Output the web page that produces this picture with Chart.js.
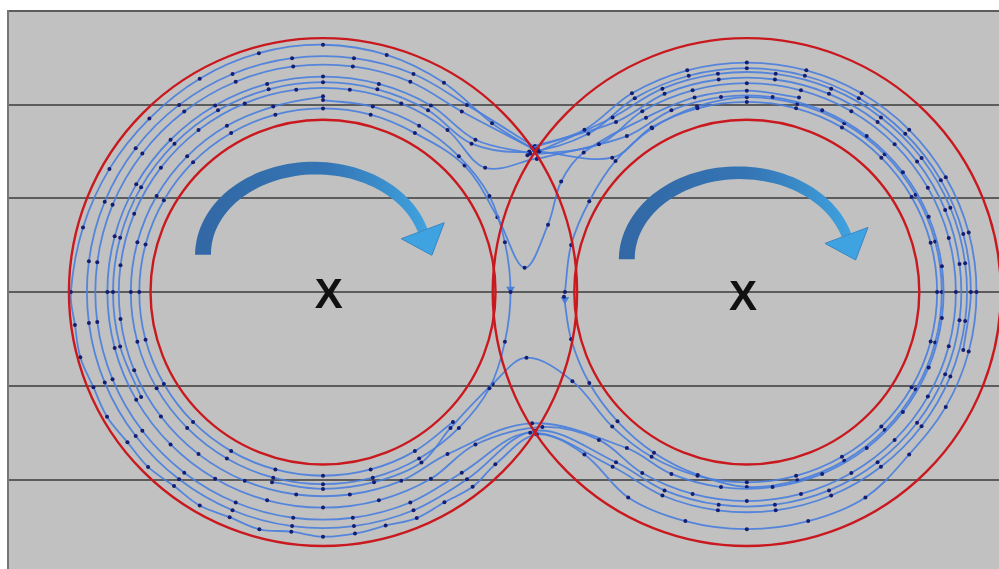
<!DOCTYPE html>
<html>
<head>
<meta charset="utf-8">
<script src="https://cdn.jsdelivr.net/npm/chart.js@4.4.1/dist/chart.umd.min.js"></script>
<style>
  html, body { margin: 0; padding: 0; background: #fff; }
  #wrap { width: 999px; height: 569px; }
</style>
</head>
<body>
<div id="wrap"><canvas id="orbitChart" width="999" height="569"></canvas></div>
<script>
'use strict';

// Reference circles: two centres, outer and inner radius
const circleX = [-22.6, 22.6];
const circleY = [0, 0];
const circleR = [27.1, 18.4];

// Centre marks
const markLabels = ['X', 'X'];
const markX = [-22.0, 22.2];
const markY = [-0.1, -0.3];

// Horizontal grid values
const gridValues = [30, 20, 10, 0, -10, -20];

// Recorded laps [x, y]
const lap1 = [[-0.3,15.4],[5.28,17.32],[10.35,21.22],[16.25,23.67],[22.6,24.5],[28.95,23.67],[34.85,21.22],[39.92,17.32],[43.82,12.25],[46.27,6.35],[47.1,0],[46.27,-6.35],[43.82,-12.25],[39.92,-17.32],[35.25,-21.91],[29.15,-24.44],[22.6,-25.3],[16.05,-24.44],[9.95,-21.91],[5.28,-17.32],[0.2,-15.2],
  [-4.22,-18.38],[-6.64,-20.78],[-9.65,-22.43],[-12.6,-24.12],[-15.92,-24.92],[-19.19,-25.77],[-22.6,-26.1],[-25.98,-25.57],[-29.39,-25.31],[-32.56,-24.02],[-35.75,-22.78],[-38.49,-20.7],[-41.26,-18.66],[-43.46,-16.02],[-45.64,-13.3],[-47.09,-10.15],[-48.49,-6.94],[-49.06,-3.5],[-49.5,0],[-48.2,6.9],[-45.38,13.15],[-41.12,18.52],[-35.75,22.78],[-29.44,25.5],[-22.6,26.4],[-15.81,25.31],[-9.7,22.34],[-4.57,18.03],[-0.1,15.2]];
const lap2 = [[0.4,15.0],[8.29,18.64],[13.6,21.71],[19.52,23.29],[25.68,23.29],[31.6,21.71],[36.91,18.64],[41.24,14.31],[44.31,9.0],[45.89,3.08],[45.89,-3.08],[44.31,-9.0],[41.24,-14.31],[36.91,-18.64],[31.6,-21.71],[25.68,-23.29],[19.52,-23.29],[13.6,-21.71],[8.29,-18.64],[-0.5,-15.0],
  [-7.8,-19.27],[-13.29,-22.45],[-19.42,-24.08],[-25.78,-24.08],[-31.91,-22.45],[-37.4,-19.27],[-41.87,-14.8],[-45.05,-9.31],[-46.68,-3.18],[-46.68,3.18],[-45.05,9.31],[-41.87,14.8],[-37.4,19.27],[-31.91,22.45],[-25.78,24.08],[-19.42,24.08],[-13.29,22.45],[-7.8,19.27],[0.2,15.1]];
const lap3 = [[-0.8,14.6],[6.83,15.77],[11.45,19.31],[16.82,21.54],[22.6,22.3],[28.38,21.54],[33.75,19.31],[38.37,15.77],[41.91,11.15],[44.14,5.78],[44.9,0],[44.14,-5.78],[41.91,-11.15],[38.37,-15.77],[33.75,-19.31],[28.38,-21.54],[22.6,-22.3],[16.82,-21.54],[11.45,-19.31],[6.83,-15.77],[0.8,-14.4],
  [-6.34,-16.26],[-11.1,-19.92],[-16.64,-22.22],[-22.6,-23.0],[-28.56,-22.22],[-34.1,-19.92],[-38.86,-16.26],[-42.52,-11.5],[-44.82,-5.96],[-45.6,0],[-44.82,5.96],[-42.52,11.5],[-38.86,16.26],[-34.1,19.92],[-28.56,22.22],[-22.6,23.0],[-16.64,22.22],[-11.1,19.92],[-6.34,16.26],[-0.5,14.8]];
const lap4 = [[0.2,14.2],[9.81,16.65],[14.56,19.4],[19.85,20.81],[25.35,20.81],[30.64,19.4],[35.39,16.65],[39.25,12.79],[42.0,8.04],[43.41,2.75],[43.41,-2.75],[42.0,-8.04],[39.25,-12.79],[35.39,-16.65],[30.64,-19.4],[25.35,-20.81],[19.85,-20.81],[14.56,-19.4],[9.81,-16.65],[-0.3,-14.0],
  [-9.32,-17.29],[-14.25,-20.14],[-19.74,-21.6],[-25.46,-21.6],[-30.95,-20.14],[-35.88,-17.29],[-39.89,-13.28],[-42.74,-8.35],[-44.2,-2.86],[-44.2,2.86],[-42.74,8.35],[-39.89,13.28],[-35.88,17.29],[-30.95,20.14],[-25.46,21.6],[-19.74,21.6],[-14.25,20.14],[-9.32,17.29],[-5.31,13.28],[0.3,14.3]];
const lap5 = [[-22.6,20.5],[-17.29,19.8],[-12.35,17.75],[-8.11,14.49],[-4.85,10.25],[-3.2,5.31],[-2.6,0],[-3.2,-5.31],[-4.85,-10.25],[-8.11,-14.49],[-12.35,-17.75],[-17.29,-19.8],[-22.6,-20.5],[-27.91,-19.8],[-32.85,-17.75],[-37.09,-14.49],[-40.35,-10.25],[-42.4,-5.31],[-43.1,0],[-42.4,5.31],[-40.35,10.25],[-37.09,14.49],[-32.85,17.75],[-27.91,19.8],[-22.6,20.9]];
const lap6 = [[-8.74,-13.86],[-12.8,-16.97],[-17.52,-18.93],[-22.6,-19.6],[-27.68,-18.93],[-32.4,-16.97],[-36.46,-13.86],[-39.57,-9.8],[-41.53,-5.08],[-42.2,0],[-41.53,5.08],[-39.57,9.8],[-36.46,13.86],[-32.4,16.97],[-27.68,18.93],[-22.6,19.6],[-17.52,18.93],[-12.8,16.97],
  [-7.5,13.5],[-4.0,8.0],[-1.1,2.6],[1.4,7.2],[2.8,11.8],[5.2,14.9],[11.85,18.62],[17.03,20.77],[22.6,21.5],[28.17,20.77]];
const lap7 = [[3.2,0],[3.86,5.02],[5.8,9.7],[8.6,14.0],[12.5,17.49],[17.29,19.8],[22.6,20.8],[27.99,20.09],[33.0,18.01],[37.31,14.71],[40.61,10.4],[42.69,5.39],[43.4,0],[42.69,-5.39],[40.61,-10.4],[37.31,-14.71],[33.0,-18.01],[27.99,-20.09],[22.6,-20.8],[17.37,-19.51],[12.7,-17.15],[8.81,-13.79],[5.8,-9.7],[3.86,-5.02],[3.1,-0.5]];
const lap8 = [[0.5,15.0],[8.25,14.35],[12.45,17.58],[17.34,19.61],[22.6,20.3],[27.86,19.61],[32.75,17.58],[36.95,14.35],[40.18,10.15],[42.21,5.26],[42.9,0],[42.21,-5.26],[40.18,-10.15],[36.95,-14.35],[32.75,-17.58],[27.86,-19.61],[22.6,-20.3],[17.34,-19.61],[12.45,-17.58],[8.25,-14.35],
  [4.0,-9.5],[-0.9,-7.0],[-4.5,-9.8],[-9.0,-14.5],[-12.1,-18.19],[-17.16,-20.29],[-22.6,-21.0],[-28.04,-20.29]];
const lap9 = [[0.0,15.6],[8.65,18.16],[13.83,21.16],[19.6,22.69],[25.6,22.69],[31.37,21.16],[36.55,18.16],[40.76,13.95],[43.76,8.77],[45.29,3.0],[45.29,-3.0],[43.76,-8.77],[40.76,-13.95],[36.55,-18.16],[31.37,-21.16],[25.6,-22.69],[19.6,-22.69],[13.83,-21.16],[8.65,-18.16],[0.0,-14.8],
  [-7.25,-19.98],[-12.95,-23.28],[-19.3,-24.97],[-25.9,-24.97],[-32.25,-23.28],[-37.95,-19.98],[-42.58,-15.35],[-45.88,-9.65],[-47.57,-3.3],[-47.57,3.3],[-45.88,9.65],[-42.58,15.35],[-37.95,19.98],[-32.25,23.28],[-25.9,24.97],[-19.3,24.97],[-12.95,23.28],[-7.25,19.98],[0.3,15.3]];
const lap10 = [[-42.0,-11.2],[-44.24,-5.8],[-45.0,0],[-44.24,5.8],[-42.0,11.2],[-38.44,15.84],[-33.8,19.4],[-28.4,21.64],[-22.6,22.4],[-16.8,21.64],[-11.4,19.4],[-6.76,15.84],[-0.6,15.0],
  [5.7,16.9],[10.65,20.7],[16.41,23.09],[22.6,23.9],[28.79,23.09],[34.55,20.7],[39.5,16.9],[43.3,11.95],[45.69,6.19],[46.5,0],[45.69,-6.19]];

// Direction marks on the crossing lines
const dirMarks = [[-2.6,0.3],[3.2,-0.8]];

const laps = [lap1, lap2, lap3, lap4, lap5, lap6, lap7, lap8, lap9, lap10];

const toPoints = arr => arr.map(([x, y]) => ({ x: x, y: y }));

const datasets = laps.map(lap => ({
  data: toPoints(lap),
  showLine: true,
  tension: 0.35,
  borderColor: 'rgba(72,126,222,0.9)',
  borderWidth: 1.8,
  pointRadius: 2,
  pointBackgroundColor: '#141d74',
  pointBorderWidth: 0
}));

datasets.push({
  data: toPoints(dirMarks),
  showLine: false,
  pointStyle: 'triangle',
  rotation: 180,
  pointRadius: 5,
  pointBackgroundColor: '#4a80d8',
  pointBorderWidth: 0
});

// Curved arrow shape, in data units relative to each circle centre
const arrowShape = { dx: -0.85, rx: 11.95, ry: 9.23, w0: 1.7, w1: 1.07, headHalf: 2.45, headLen: 2.8, endCut: 0.28 };
const arrowLift = [4.0, 3.5];

const backdrop = {
  id: 'backdrop',
  beforeDraw(chart) {
    const { ctx, chartArea: a } = chart;
    ctx.save();
    ctx.fillStyle = '#ffffff';
    ctx.fillRect(0, 0, chart.width, chart.height);
    ctx.fillStyle = '#c1c1c1';
    ctx.fillRect(a.left, a.top, a.right - a.left, a.bottom - a.top);
    ctx.restore();
  }
};

const overlay = {
  id: 'overlay',
  afterDatasetsDraw(chart) {
    const { ctx, chartArea: a, scales: { x, y } } = chart;
    const k = x.getPixelForValue(1) - x.getPixelForValue(0);
    ctx.save();
    ctx.beginPath();
    ctx.rect(a.left, a.top, a.right - a.left, a.bottom - a.top);
    ctx.clip();

    // red circles
    ctx.strokeStyle = '#c9191f';
    ctx.lineWidth = 2.4;
    circleX.forEach((cx, i) => {
      const px = x.getPixelForValue(cx);
      const py = y.getPixelForValue(circleY[i]);
      circleR.forEach(r => {
        const rx = x.getPixelForValue(cx + r) - px;
        const ry = py - y.getPixelForValue(circleY[i] + r);
        ctx.beginPath();
        ctx.ellipse(px, py, rx, ry, 0, 0, Math.PI * 2);
        ctx.stroke();
      });
    });

    // curved arrows
    circleX.forEach((cx, i) => {
      const s = arrowShape;
      const ecx = x.getPixelForValue(cx + s.dx);
      const ecy = y.getPixelForValue(circleY[i] + arrowLift[i]);
      const rx = s.rx * k, ry = s.ry * k;
      const a0 = Math.PI, a1 = Math.PI * 2 - s.endCut;
      const n = 60;
      const outer = [], inner = [];
      for (let j = 0; j <= n; j++) {
        const t = j / n;
        const ang = a0 + (a1 - a0) * t;
        const w = (s.w0 + (s.w1 - s.w0) * t) * k / 2;
        outer.push([ecx + (rx + w) * Math.cos(ang), ecy + (ry + w) * Math.sin(ang)]);
        inner.push([ecx + (rx - w) * Math.cos(ang), ecy + (ry - w) * Math.sin(ang)]);
      }
      const grad = ctx.createLinearGradient(ecx - rx, 0, ecx + rx, 0);
      grad.addColorStop(0, '#3268a5');
      grad.addColorStop(0.55, '#3575b5');
      grad.addColorStop(1, '#3fa2de');
      ctx.fillStyle = grad;
      ctx.beginPath();
      outer.forEach((p, j) => j ? ctx.lineTo(p[0], p[1]) : ctx.moveTo(p[0], p[1]));
      inner.reverse().forEach(p => ctx.lineTo(p[0], p[1]));
      ctx.closePath();
      ctx.fill();

      // head
      const ex = ecx + rx * Math.cos(a1), ey = ecy + ry * Math.sin(a1);
      let tx = -rx * Math.sin(a1), ty = ry * Math.cos(a1);
      const len = Math.hypot(tx, ty);
      tx /= len; ty /= len;
      const nx = -ty, ny = tx;
      const hw = s.headHalf * k, hl = s.headLen * k;
      ctx.fillStyle = '#3ea3e0';
      ctx.strokeStyle = '#3a86c4';
      ctx.lineWidth = 1;
      ctx.beginPath();
      ctx.moveTo(ex + nx * hw, ey + ny * hw);
      ctx.lineTo(ex - nx * hw, ey - ny * hw);
      ctx.lineTo(ex + tx * hl, ey + ty * hl);
      ctx.closePath();
      ctx.fill();
      ctx.stroke();
    });

    // centre marks
    ctx.fillStyle = '#111111';
    ctx.font = 'bold 42px "Liberation Sans", Arial, sans-serif';
    ctx.textAlign = 'center';
    ctx.textBaseline = 'alphabetic';
    markLabels.forEach((lbl, i) => {
      ctx.fillText(lbl, x.getPixelForValue(markX[i]), y.getPixelForValue(markY[i]) + 15);
    });
    ctx.restore();
  }
};

new Chart(document.getElementById('orbitChart'), {
  type: 'scatter',
  data: { datasets: datasets },
  options: {
    responsive: false,
    devicePixelRatio: 1,
    animation: false,
    events: [],
    layout: { autoPadding: false, padding: { left: 8, top: 11, right: 0, bottom: 0 } },
    plugins: { legend: { display: false }, tooltip: { enabled: false } },
    scales: {
      x: { type: 'linear', min: -56.2, max: 49.5, display: false },
      y: {
        type: 'linear',
        min: -29.55,
        max: 30,
        afterBuildTicks: scale => { scale.ticks = gridValues.map(v => ({ value: v })); },
        ticks: { display: false },
        grid: { color: '#5c5c5c', lineWidth: 2, drawTicks: false },
        border: { display: true, color: '#767676', width: 2 }
      }
    }
  },
  plugins: [backdrop, overlay]
});
</script>
</body>
</html>
